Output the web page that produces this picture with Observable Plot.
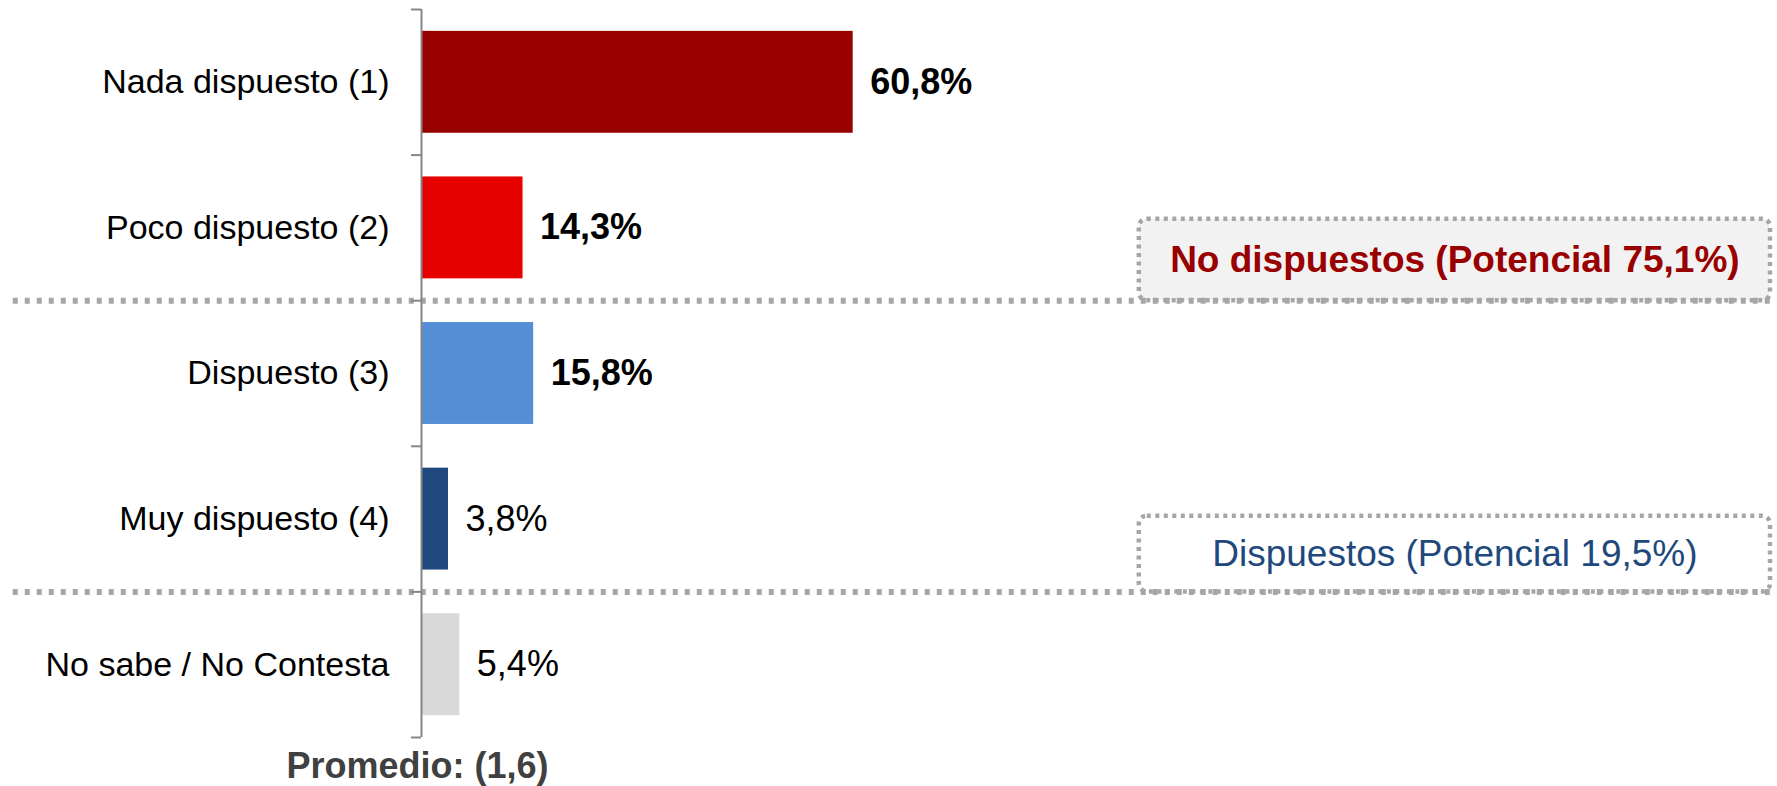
<!DOCTYPE html>
<html><head><meta charset="utf-8">
<script src="https://cdn.jsdelivr.net/npm/d3@7"></script>
<script src="https://cdn.jsdelivr.net/npm/@observablehq/plot@0.6"></script>
<style>html,body{margin:0;padding:0;background:#fff;} svg{display:block}</style>
</head><body><div id="chart"></div>
<script>
const categories = ["Nada dispuesto (1)", "Poco dispuesto (2)", "Dispuesto (3)", "Muy dispuesto (4)", "No sabe / No Contesta"];
const values = [60.8, 14.3, 15.8, 3.8, 5.4];
const valueLabels = ["60,8%", "14,3%", "15,8%", "3,8%", "5,4%"];
const boldLabel = [true, true, true, false, false];
const barColors = ["#990000", "#E60000", "#558ED5", "#1F497D", "#D9D9D9"];
const groupLabels = ["No dispuestos (Potencial 75,1%)", "Dispuestos (Potencial 19,5%)"];
const groupEnds = [2, 4];
const averageLabel = "Promedio: (1,6)";

const data = categories.map((c, i) => ({category: c, index: i, value: values[i], label: valueLabels[i], bold: boldLabel[i]}));

const FONT = "'Liberation Sans', Arial, sans-serif";
const sepStroke = "#A6A6A6";
const boxX1 = 101.1, boxX2 = 190;
const boxes = [
  {label: groupLabels[0], y1: 1.44, y2: groupEnds[0], fill: "#F2F2F2", color: "#990000"},
  {label: groupLabels[1], y1: 3.48, y2: groupEnds[1], fill: "#FFFFFF", color: "#1F497D"}
];

const chart = Plot.plot({
  width: 1777,
  height: 786,
  marginLeft: 421,
  marginRight: 7,
  marginTop: 9,
  marginBottom: 49,
  style: {fontFamily: FONT, background: "#fff"},
  x: {domain: [0, 190], axis: null},
  y: {domain: [0, 5], reverse: true, axis: null},
  color: {domain: categories, range: barColors},
  marks: [
    Plot.rect(boxes, {x1: boxX1, x2: boxX2, y1: "y1", y2: "y2", fill: d => d.fill, stroke: sepStroke, strokeWidth: 4.5, strokeDasharray: "4,4.5", rx: 8}),
    Plot.ruleY(groupEnds, {x1: -57.5, x2: 190, stroke: sepStroke, strokeWidth: 6, strokeDasharray: "5,7"}),
    Plot.text([boxes[0]], {x: (boxX1 + boxX2) / 2, y: d => (d.y1 + d.y2) / 2, text: "label", fill: "color", fontSize: 37, fontWeight: "bold"}),
    Plot.text([boxes[1]], {x: (boxX1 + boxX2) / 2, y: d => (d.y1 + d.y2) / 2, text: "label", fill: "color", fontSize: 37}),
    Plot.rect(data, {x1: 0, x2: "value", y1: d => d.index + 0.15, y2: d => d.index + 0.85, fill: "category"}),
    Plot.ruleX([0], {y1: 0, y2: 5, stroke: "#868686", strokeWidth: 2}),
    Plot.axisY(d3.range(6), {tickSize: 10, tickFormat: () => "", stroke: "#868686", strokeWidth: 2}),
    Plot.text(data, {x: 0, y: d => d.index + 0.5, text: "category", dx: -32, textAnchor: "end", fontSize: 34, fill: "#000"}),
    Plot.text(data.filter(d => d.bold), {x: "value", y: d => d.index + 0.5, text: "label", dx: 17, textAnchor: "start", fontSize: 36, fontWeight: "bold", fill: "#000"}),
    Plot.text(data.filter(d => !d.bold), {x: "value", y: d => d.index + 0.5, text: "label", dx: 17, textAnchor: "start", fontSize: 36, fill: "#000"}),
    Plot.text([averageLabel], {x: 0, text: d => d, frameAnchor: "bottom", lineAnchor: "middle", dy: 29, dx: -4, fontSize: 36, fontWeight: "bold", fill: "#404040"})
  ]
});
document.getElementById("chart").appendChild(chart);
</script>
</body></html>
